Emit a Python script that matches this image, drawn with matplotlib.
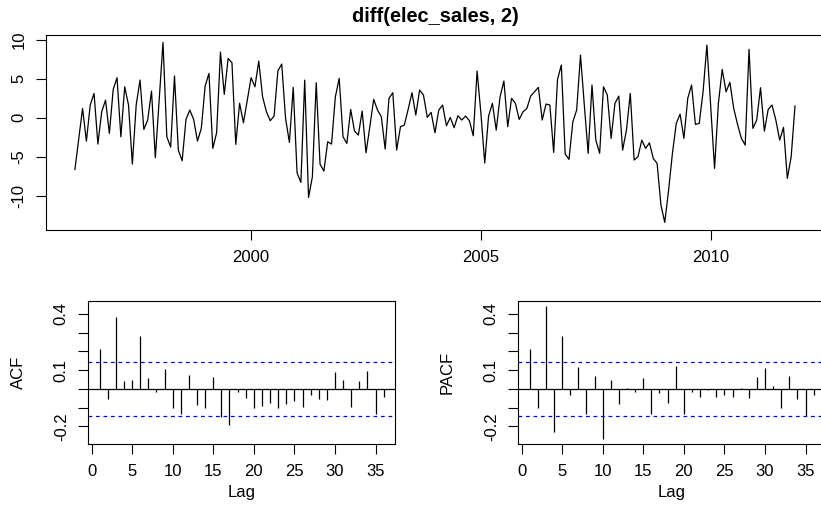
import matplotlib
matplotlib.use("Agg")
import matplotlib.pyplot as plt
import numpy as np

plt.rcParams['font.family'] = ['Liberation Sans', 'DejaVu Sans']

# monthly series, starts March 1996
start_year = 1996 + 2 / 12
sales_diff = [
    -6.62, -2.7, 1.20, -2.99, 1.63, 3.12, -3.37, 0.77, 2.27, -2.0,
    3.64, 5.13, -2.44, 3.97, 1.63, -5.94, 1.63, 4.83, -1.49, -0.29,
    3.42, -5.13, 2.27, 9.66, -2.44, -3.75, 5.35, -4.14, -5.51, -0.21,
    0.99, -0.21, -2.99, -1.36, 4.06, 5.69, -3.92, -1.92, 8.42, 3.0,
    7.61, 7.05, -3.41, 1.85, -0.64, 2.27, 5.13, 3.97, 7.27, 2.69,
    0.77, -0.38, 0.22, 6.03, 6.88, -0.08, -3.16, 3.9, -7.05, -8.29,
    4.83, -10.21, -7.56, 4.49, -5.94, -6.83, -3.08, -3.37, 2.69, 5.05,
    -2.44, -3.29, 1.07, -1.71, -2.22, 0.86, -4.49, -1.15, 2.36, 0.99,
    0.13, -4.01, 2.49, 3.21, -4.14, -1.15, -0.94, 1.07, 3.21, 0.35,
    3.55, 2.91, 0.05, 0.69, -1.92, 0.99, 1.63, -1.03, 0.05, -1.28,
    0.26, -0.29, 0.22, -0.38, -2.31, 5.99, 0.56, -5.8, 0.22, 1.85,
    -1.58, 2.69, 4.71, -1.15, 2.49, 1.85, -0.21, 0.77, 1.2, 2.78,
    3.33, 3.9, -0.29, 1.76, 1.63, -4.44, 4.92, 6.76, -4.65, -5.33,
    -0.51, 0.99, 8.04, 1.6, -4.56, 4.19, -2.86, -4.56, 3.97, 2.91,
    -2.64, 1.85, 2.78, -4.14, -1.58, 3.12, -5.42, -5.0, -2.86, -3.92,
    -3.21, -5.21, -5.85, -11.19, -13.41, -9.27, -4.56, -0.72, 0.47, -2.64,
    2.49, 4.19, -0.85, -0.72, 3.33, 9.32, 1.41, -6.49, 1.85, 6.2,
    3.33, 4.54, 1.2, -0.85, -2.64, -3.5, 8.77, -1.36, -0.29, 3.85,
    -1.71, 1.07, 1.63, -0.29, -2.86, -1.23, -7.77, -5.0, 1.5,
]

acf_vals = [
    0.214, -0.053, 0.386, 0.041, 0.048, 0.283, 0.058, -0.018, 0.108, -0.103,
    -0.133, 0.076, -0.087, -0.103, 0.064, -0.150, -0.195, -0.018, -0.050, -0.104,
    -0.090, -0.074, -0.103, -0.083, -0.067, -0.094, -0.035, -0.053, -0.057, 0.088,
    0.050, -0.096, 0.042, 0.094, -0.133, -0.044,
]
pacf_vals = [
    0.214, -0.104, 0.442, -0.228, 0.280, -0.032, 0.115, -0.136, 0.067, -0.267,
    0.050, -0.083, 0.005, -0.016, 0.057, -0.136, -0.023, -0.074, 0.120, -0.133,
    -0.018, -0.044, -0.007, -0.042, -0.030, -0.042, 0.005, -0.050, 0.064, 0.112,
    0.016, -0.103, 0.067, -0.053, -0.142, -0.035,
]
ci = 0.1426

W, H = 821, 526
fig = plt.figure(figsize=(W / 100, H / 100), dpi=100)
fig.patch.set_facecolor('white')


def px_axes(x0, y0, x1, y1):
    return fig.add_axes([x0 / W, 1 - y1 / H, (x1 - x0) / W, (y1 - y0) / H])


def style(ax):
    for s in ax.spines.values():
        s.set_linewidth(0.8)
        s.set_color('black')
    ax.tick_params(direction='out', length=7.5, width=0.8, labelsize=12,
                   color='black', pad=7)
    ax.tick_params(axis='y', pad=6.5)


def rotate_y(ax):
    for lab in ax.get_yticklabels():
        lab.set_rotation(90)
        lab.set_va('center')


def padded(lo, hi):
    r = hi - lo
    return lo - 0.04 * r, hi + 0.04 * r


# top: time series
t = start_year + np.arange(len(sales_diff)) / 12
ax = px_axes(46.1, 35.2, 823.8, 229.6)
ax.plot(t, sales_diff, color='black', lw=0.9)
ax.set_xlim(*padded(t[0], t[-1]))
ax.set_ylim(*padded(min(sales_diff), max(sales_diff)))
ax.set_xticks([2000, 2005, 2010])
ax.set_yticks([-10, -5, 0, 5, 10])
ax.set_yticklabels(['-10', '-5', '0', '5', '10'])
style(ax)
rotate_y(ax)
fig.text(ax.get_position().x0 + ax.get_position().width / 2, 1 - 16 / H,
         'diff(elec_sales, 2)', ha='center', va='center',
         fontsize=14.4, fontweight='bold')

lags = np.arange(1, len(acf_vals) + 1)
lo = min(min(acf_vals), min(pacf_vals), -ci)
hi = max(max(acf_vals), max(pacf_vals), ci)
ylims = padded(lo, hi)

panels = [(acf_vals, 'ACF', 88.3, 18.3), (pacf_vals, 'PACF', 518.3, 446.7)]
for vals, name, x0, lab_x in panels:
    a = px_axes(x0, 300.7, x0 + 306.7, 444.3)
    a.vlines(lags, 0, vals, color='black', lw=0.9)
    a.axhline(0, color='black', lw=0.9)
    a.axhline(ci, color='blue', lw=0.9, ls=(0, (3, 3)))
    a.axhline(-ci, color='blue', lw=0.9, ls=(0, (3, 3)))
    a.set_xlim(*padded(1, 36))
    a.set_ylim(*ylims)
    a.set_xticks(range(0, 36, 5))
    yt = [-0.2, -0.1, 0.0, 0.1, 0.2, 0.3, 0.4]
    a.set_yticks(yt)
    a.set_yticklabels(['-0.2', '', '', '0.1', '', '', '0.4'])
    style(a)
    rotate_y(a)
    fig.text(lab_x / W, 1 - 372.5 / H, name, rotation=90, ha='center',
             va='center', fontsize=12)
    fig.text((x0 + 153.3) / W, 1 - 493 / H, 'Lag', ha='center',
             va='center', fontsize=12)

fig.savefig('out.png', dpi=100, facecolor='white')
